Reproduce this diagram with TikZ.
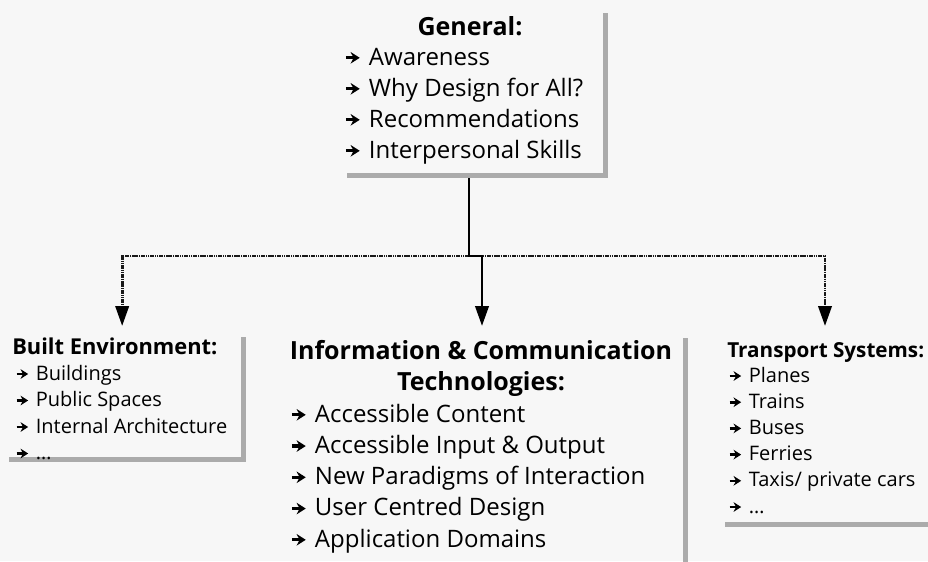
\documentclass[tikz,border=0pt]{standalone}
\usepackage{fontspec}
\setmainfont{Open Sans}
\usetikzlibrary{arrows.meta,positioning}

% small arrow used as list bullet
\newcommand{\arw}{\tikz[baseline=-0.3em]\draw[line width=0.13em,-{Stealth[length=0.38em,width=0.48em]}] (0,0) -- (0.58em,0);\hspace{0.32em}}
% grey shadow on the right and bottom of a panel
\newcommand{\panelbars}[1]{%
  \fill[bar] ([xshift=-4pt]#1.north east) rectangle (#1.south east);
  \fill[bar] ([yshift=4pt]#1.south west) rectangle (#1.south east);}

\tikzset{
  panel/.style={inner sep=0pt, outer sep=0pt},
  bar/.style={fill=black!33},
  item/.style={anchor=base west, inner sep=0pt, font=\fontsize{18}{22}\selectfont},
  smallitem/.style={item, font=\fontsize{15}{18}\selectfont},
  head/.style={anchor=base, inner sep=0pt, font=\bfseries\fontsize{18.75}{22}\selectfont},
  subhead/.style={anchor=base west, inner sep=0pt, font=\bfseries\fontsize{15.5}{18}\selectfont},
  link/.style={line width=2.2pt, -{Triangle[length=15pt,width=10pt]}},
  dotlink/.style={line width=2.1pt, black!90, dash pattern=on 1.2pt off 0.5pt,
    -{Triangle[length=15pt,width=10pt,color=black]}}
}

\begin{document}
\begin{tikzpicture}[x=0.75pt,y=-0.75pt]
  \useasboundingbox[fill=black!3] (0,0) rectangle (928,561);

  % panels
  \node[panel, minimum width=195.75pt, minimum height=123.75pt] (general) at (477.5,95.5) {};
  \node[panel, minimum width=177.75pt, minimum height=93.75pt] (built) at (127.5,399.5) {};
  \node[panel, minimum width=309pt, minimum height=181.5pt] (ict) at (482,459) {};
  \node[panel, minimum width=160.5pt, minimum height=142.5pt] (transport) at (832,432) {};
  \foreach \p in {general, built, ict, transport} {
    \panelbars{\p}
  }

  % general
  \node[head] (gen-head) at (470,35) {General:};
  \foreach \txt [count=\i] in {Awareness, Why Design for All?, Recommendations, Interpersonal Skills}
    \node[item] (gen-\i) at (344,34+31*\i) {\arw\txt};

  % built environment
  \node[subhead, font=\bfseries\fontsize{16.4}{18}\selectfont] (built-head) at (12,354) {Built Environment:};
  \foreach \txt [count=\i] in {Buildings, Public Spaces, Internal Architecture, \ldots}
    \node[smallitem] (built-\i) at (15,353.5+26.5*\i) {\arw\txt};

  % information & communication
  \node[head] (ict-head) at (481,359) {Information \& Communication};
  \node[head] (ict-head2) at (481,390) {Technologies:};
  \foreach \txt [count=\i] in {Accessible Content, Accessible Input \& Output, New Paradigms of Interaction, User Centred Design, Application Domains}
    \node[item] (ict-\i) at (290,390.75+31.25*\i) {\arw\txt};

  % transport
  \node[subhead] (trans-head) at (727,357) {Transport Systems:};
  \foreach \txt [count=\i] in {Planes, Trains, Buses, Ferries, Taxis/ private cars, \ldots}
    \node[smallitem] (trans-\i) at (728,355.8+26.2*\i) {\arw\txt};

  % connectors
  \coordinate (split) at (469,256);
  \draw[dotlink] (split) -| ([xshift=-4pt,yshift=8.25pt]built.north);
  \draw[dotlink] (split) -| ([xshift=-5.25pt,yshift=8.25pt]transport.north);
  \draw[link] (general.south -| split) -- (split) -| ([yshift=9pt]ict.north);
\end{tikzpicture}
\end{document}
